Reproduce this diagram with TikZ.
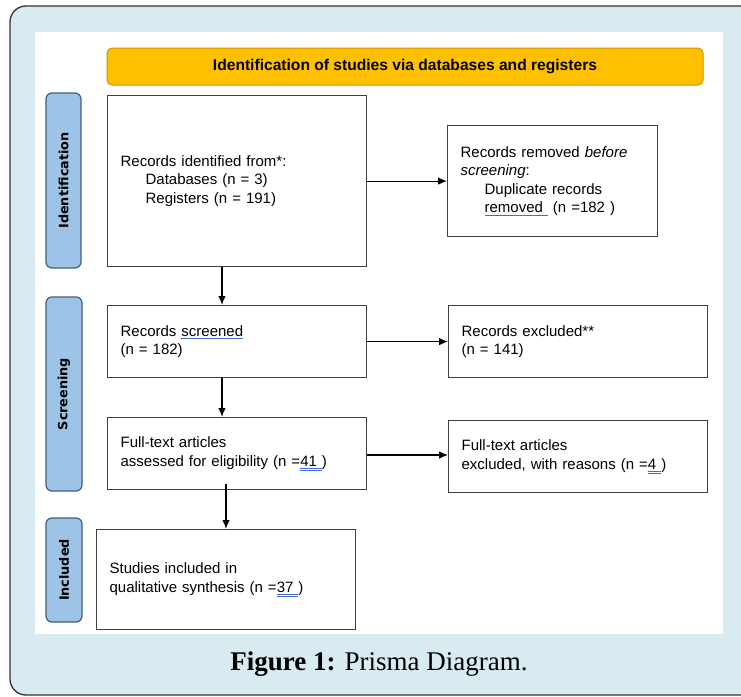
\documentclass[tikz,border=0pt]{standalone}
\usepackage{fontspec}
\setmainfont{Liberation Serif}
\newfontfamily\arialf{Liberation Sans}
\newfontfamily\verdf[BoldFont={DejaVu Sans Bold}]{DejaVu Sans}
\usetikzlibrary{arrows.meta}
\definecolor{bgblue}{HTML}{D7EBF0}
\definecolor{barblue}{HTML}{9DC3E6}
\definecolor{barline}{HTML}{3F5F7F}
\definecolor{hdrfill}{HTML}{FFC000}
\definecolor{hdrline}{HTML}{C89600}
\definecolor{boxline}{HTML}{404040}
\definecolor{wordblue}{HTML}{3A6FD8}
\newcommand\sqline[1]{\setbox0\hbox{#1}\rlap{\color{wordblue}\rule[-2.8pt]{\wd0}{0.7pt}}#1}
\newcommand\dqline[1]{\setbox0\hbox{#1}\rlap{\color{wordblue}\rule[-2.2pt]{\wd0}{0.5pt}}\rlap{\color{wordblue}\rule[-3.7pt]{\wd0}{0.5pt}}#1}
\tikzset{
  stagebox/.style={draw=boxline, line width=1.2pt, fill=white, align=left, anchor=north west,
    inner xsep=13pt, inner ysep=0pt, font=\arialf\fontsize{15}{18.5}\selectfont},
  sidebar/.style={draw=barline, line width=1.2pt, fill=barblue, rounded corners=6pt},
  sidelabel/.style={rotate=90, font=\verdf\bfseries\fontsize{12.8}{14}\selectfont, text=black},
  flow/.style={line width=1.1pt, -{Latex[length=9pt,width=7.5pt]}}
}
\begin{document}
\begin{tikzpicture}[x=1pt,y=-1pt]
\clip (0,0) rectangle (741,696);
\fill[white] (0,0) rectangle (741,696);
% outer frame
\draw[fill=bgblue, draw=black!80, line width=1.3pt, rounded corners=16pt] (10,6) rectangle (780,695);
% white panel
\fill[white] (35,32) rectangle (723,634);
% header
\node[draw=hdrline, line width=1pt, fill=hdrfill, rounded corners=5pt, minimum width=596pt, minimum height=37pt,
  font=\arialf\bfseries\fontsize{15.6}{17}\selectfont, inner sep=0pt] (hdr) at (405,66.5)
  {Identification of studies via databases and registers};
% side bars
\draw[sidebar] (46,93) rectangle (81,268);
\node[sidelabel] (lid) at (63.5,180.5) {Identification};
\draw[sidebar] (46,297) rectangle (82,491);
\node[sidelabel] (lsc) at (64,394) {Screening};
\draw[sidebar] (46,518) rectangle (82,622);
\node[sidelabel] (lin) at (64,570) {Included};
% boxes
\node[stagebox, text width=233pt, minimum height=171pt] (b1) at (107,95)
  {Records identified from*:\\\hspace*{25pt}Databases (n = 3)\\\hspace*{25pt}Registers (n = 191)};
\node[stagebox, text width=184pt, minimum height=111pt] (b2) at (447,125)
  {Records removed \textit{before}\\\textit{screening}:\\\hspace*{24pt}Duplicate records\\\hspace*{24pt}\sqline{removed\ }\ (n =182 )};
\node[stagebox, text width=233pt, minimum height=72pt] (b3) at (107,305)
  {Records \sqline{screened}\\(n = 182)};
\node[stagebox, text width=233pt, minimum height=72pt] (b4) at (448,305)
  {Records excluded**\\(n = 141)};
\node[stagebox, text width=233pt, minimum height=72pt] (b5) at (107,417)
  {Full-text articles\\assessed for eligibility (n =\dqline{41 })};
\node[stagebox, text width=233pt, minimum height=72pt] (b6) at (448,420)
  {Full-text articles\\excluded, with reasons (n =\dqline{4 })};
\node[stagebox, text width=233pt, minimum height=100pt, inner xsep=13pt] (b7) at (96,529)
  {Studies included in\\qualitative synthesis (n =\dqline{37 })};
% connectors
\draw[flow] (b1.east) -- (b2.west);
\draw[flow] (b1.south -| 222,0) -- (b3.north -| 222,0);
\draw[flow] (b3.east) -- (b4.west);
\draw[flow] (b3.south -| 222,0) -- (b5.north -| 222,0);
\draw[flow] (b5.east |- 0,455) -- (b6.west |- 0,455);
\coordinate (s5) at (226,484);
\draw[flow] (s5) -- (b7.north -| s5);
% caption
\node[font=\fontsize{27}{30}\selectfont, inner sep=0pt] (cap) at (379,664) {\textbf{Figure 1:} Prisma Diagram.};
\end{tikzpicture}
\end{document}
